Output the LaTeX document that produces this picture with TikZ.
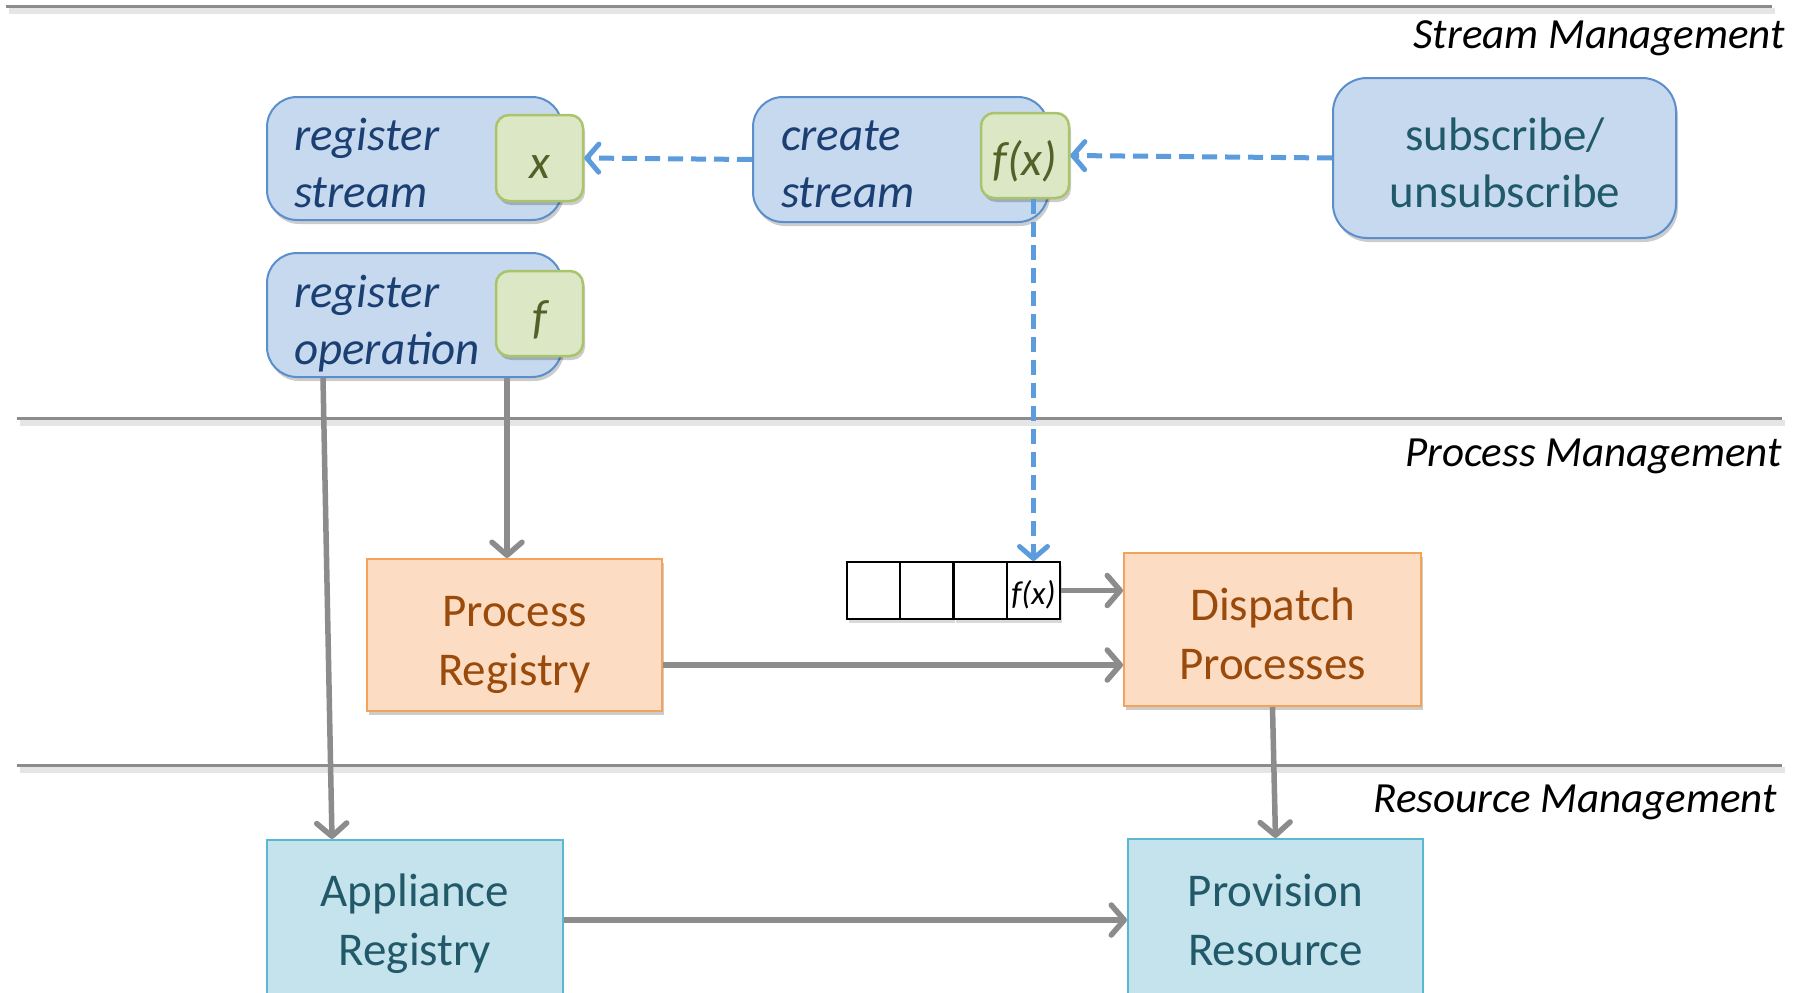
\documentclass[tikz,border=0pt]{standalone}
\usepackage{fontspec}
\setmainfont{Carlito}
\usetikzlibrary{shadows,arrows.meta}
\definecolor{bfill}{HTML}{C6D9EE}
\definecolor{bdraw}{HTML}{5B8FCB}
\definecolor{btext}{HTML}{1B3F73}
\definecolor{stext}{HTML}{205A6A}
\definecolor{gfill}{HTML}{DCE7C6}
\definecolor{gdraw}{HTML}{A9C46A}
\definecolor{gtext}{HTML}{4F6228}
\definecolor{ofill}{HTML}{FCDCC2}
\definecolor{odraw}{HTML}{F5A25A}
\definecolor{otext}{HTML}{9A4A0A}
\definecolor{cfill}{HTML}{C4E3EC}
\definecolor{cdraw}{HTML}{5BB8D0}
\definecolor{ctext}{HTML}{215968}
\definecolor{arrgray}{HTML}{8C8C8C}
\definecolor{dashblue}{HTML}{5D9CDC}
\definecolor{sepgray}{HTML}{8C8C8C}
\tikzset{
  shad/.style={drop shadow={shadow xshift=2pt,shadow yshift=-4pt,opacity=0.2,fill=black}},
  bluebox/.style={draw=bdraw,fill=bfill,line width=2pt,rounded corners=30pt,inner sep=0pt,shad},
  greenbox/.style={draw=gdraw,fill=gfill,line width=2.5pt,rounded corners=13pt,
    minimum width=87pt,minimum height=86pt,inner sep=0pt,shad,
    text height=40pt,text depth=0pt,
    font=\fontsize{48}{58}\selectfont\itshape,text=gtext},
  btxt/.style={inner sep=0pt,align=left,text=btext,font=\fontsize{47}{57}\selectfont\itshape},
  stxt/.style={inner sep=0pt,align=center,text=stext,font=\fontsize{47}{57}\selectfont},
  orangebox/.style={draw=odraw,fill=ofill,line width=2pt,inner sep=0pt,shad},
  otxt/.style={inner sep=0pt,align=center,text=otext,font=\fontsize{47}{59}\selectfont},
  cyanbox/.style={draw=cdraw,fill=cfill,line width=2pt,inner sep=0pt},
  ctxt/.style={inner sep=0pt,align=center,text=ctext,font=\fontsize{47}{59}\selectfont},
  cell/.style={draw=black,fill=white,line width=2pt,minimum width=53pt,minimum height=57pt,inner sep=0pt,
    drop shadow={shadow xshift=2pt,shadow yshift=-4pt,opacity=0.15,fill=black},
    text height=28pt,text depth=0pt,
    font=\fontsize{33}{38}\selectfont\itshape},
  lab/.style={inner sep=0pt,font=\fontsize{43}{50}\selectfont\itshape,text=black},
  grayarrow/.style={draw=arrgray,line width=5.5pt,-{Straight Barb[length=13pt,width=30pt,round]}},
  bluearrow/.style={draw=dashblue,line width=5pt,dash pattern=on 15pt off 8pt,-{Straight Barb[length=12pt,width=28pt,round]}},
  sepline/.style={draw=sepgray,line width=3pt},
  sepshadow/.style={draw=black!10,line width=6pt},
}
\begin{document}
\begin{tikzpicture}[x=1pt,y=-1pt]
\clip (0,0) rectangle (1808,993);
\fill[white] (0,0) rectangle (1808,993);
% separator lines
\draw[sepshadow] (9,11) -- (1775,11);
\draw[sepline] (6,6) -- (1772,6);
\draw[sepshadow] (20,423) -- (1785,423);
\draw[sepline] (17,418) -- (1782,418);
\draw[sepshadow] (20,770) -- (1785,770);
\draw[sepline] (17,765) -- (1782,765);
% labels
\node[lab,anchor=base east] (l1) at (1785,48.5) {Stream Management};
\node[lab,anchor=base east] (l2) at (1782,466.5) {Process Management};
\node[lab,anchor=base east] (l3) at (1777,812.5) {Resource Management};
% stream management boxes
\node[bluebox,minimum width=295pt,minimum height=123pt] (rs) at (414.5,158.5) {};
\node[btxt,anchor=west] (rst) at (294,163) {register\\stream};
\node[greenbox] (xb) at (539.5,158) {x};
\node[bluebox,minimum width=295pt,minimum height=124pt] (ro) at (414.5,315) {};
\node[btxt,anchor=west] (rot) at (294,324) {register\\operation};
\node[greenbox,minimum height=85pt] (fb) at (539.5,313.5) {f};
\node[bluebox,minimum width=295pt,minimum height=125pt] (cs) at (900.5,159.5) {};
\node[btxt,anchor=west] (cst) at (781,164) {create\\stream};
\node[greenbox,minimum width=88pt,minimum height=85pt] (fx) at (1025,155.5) {f(x)};
\node[bluebox,rounded corners=34pt,minimum width=343pt,minimum height=160pt] (sub) at (1504.5,158) {};
\node[stxt] (subt) at (1505,163) {subscribe/\\unsubscribe};
% process management
\node[orangebox,minimum width=295pt,minimum height=152pt] (pr) at (514.5,635) {};
\node[otxt] (prt) at (514.5,644.5) {Process\\Registry};
\node[orangebox,minimum width=297pt,minimum height=153pt] (dp) at (1272.5,629.5) {};
\node[otxt] (dpt) at (1272.5,634) {Dispatch\\Processes};
\node[cell] (q1) at (873.5,590.5) {};
\node[cell] (q2) at (926.5,590.5) {};
\node[cell] (q3) at (980,590.5) {};
\node[cell] (q4) at (1033.5,590.5) {f(x)};
% resource management
\node[cyanbox,minimum width=296pt,minimum height=160pt] (ar) at (415,920) {};
\node[ctxt] (art) at (415,924) {Appliance\\Registry};
\node[cyanbox,minimum width=295pt,minimum height=161pt] (pv) at (1275.5,919.5) {};
\node[ctxt] (pvt) at (1275.5,920) {Provision\\Resource};
% dashed blue connectors
\draw[bluearrow] (cs.west) -- (xb.east);
\draw[bluearrow] (sub.west) -- (fx.east);
\draw[bluearrow] (q4.north |- fx.south) -- (q4.north);
% gray connectors
\coordinate (pre) at ([yshift=-30pt]pr.east);
\draw[grayarrow] ([xshift=-91.5pt]ro.south) -- ([xshift=-83pt]ar.north);
\draw[grayarrow] ([xshift=92.5pt]ro.south) -- ([xshift=92.5pt]ro.south |- pr.north);
\draw[grayarrow] (pre) -- (dp.west |- pre);
\draw[grayarrow] (q4.east) -- (dp.west |- q4.east);
\draw[grayarrow] (dp.south) -- (pv.north);
\draw[grayarrow] (ar.east) -- (pv.west |- ar.east);
\end{tikzpicture}
\end{document}
